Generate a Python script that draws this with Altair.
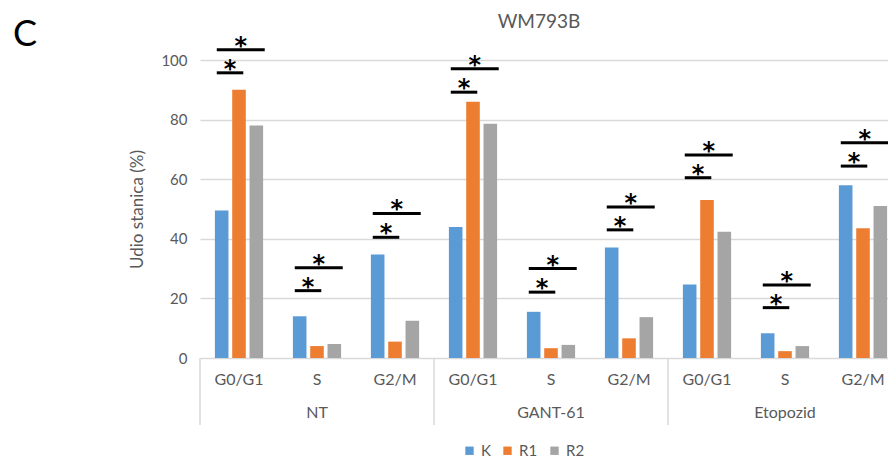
import altair as alt
import pandas as pd

# ---------------- data ----------------
treatments = ["NT", "GANT-61", "Etopozid"]
phases = ["G0/G1", "S", "G2/M"]
series = ["K", "R1", "R2"]
K_vals = [49.5, 14.0, 34.7, 44.0, 15.5, 37.1, 24.7, 8.3, 58.0]
R1_vals = [90.0, 4.0, 5.5, 86.0, 3.3, 6.6, 53.0, 2.3, 43.5]
R2_vals = [78.0, 4.7, 12.5, 78.6, 4.4, 13.7, 42.4, 4.0, 51.0]
sig_short = [95.7, 22.6, 40.5, 89.2, 22.1, 43.0, 60.5, 16.9, 64.4]
sig_long = [103.4, 30.3, 48.5, 97.1, 30.0, 50.7, 68.1, 24.5, 72.2]
colors = ["#5B9BD5", "#ED7D31", "#A5A5A5"]
panel_label = ["C"]
chart_title = ["WM793B"]
y_title = "Udio stanica (%)"

# ---------------- layout ----------------
W, H = 688, 298
UNIT = 78.0
XMAX = W / UNIT
offsets = {"K": -0.222, "R1": 0.0, "R2": 0.222}
HW = 0.087
GREY = "#595959"
FONT = "Lato"

cats = [(t, p) for t in treatments for p in phases]

rows = []
for i in range(len(cats)):
    for s, vals in zip(series, [K_vals, R1_vals, R2_vals]):
        c = i + 0.5 + offsets[s]
        rows.append(dict(series=s, x0=c - HW, x1=c + HW, val=vals[i]))
bars_df = pd.DataFrame(rows)

sig_rows = []
for i in range(len(cats)):
    for end, yv in [(0.555, sig_short[i]), (0.83, sig_long[i])]:
        xs_, xe_ = i + 0.215, i + end
        sig_rows.append(dict(xs=xs_, xe=xe_, xm=(xs_ + xe_) / 2, y=yv, star="*"))
sig_df = pd.DataFrame(sig_rows)

phase_df = pd.DataFrame(dict(pos=[i + 0.5 for i in range(len(cats))],
                             label=[p for _, p in cats]))
treat_df = pd.DataFrame(dict(pos=[3 * k + 1.5 for k in range(len(treatments))],
                             label=treatments))
sep_df = pd.DataFrame(dict(pos=[3 * k for k in range(len(treatments) + 1)]))

xs = alt.Scale(domain=[0, XMAX], nice=False, zero=False)
ys = alt.Scale(domain=[0, 100], nice=False)

bars = alt.Chart(bars_df).mark_rect().encode(
    x=alt.X("x0:Q", scale=xs, axis=None),
    x2="x1:Q",
    y=alt.Y("val:Q", scale=ys,
            axis=alt.Axis(values=[0, 20, 40, 60, 80, 100], domain=False, ticks=False,
                          grid=True, gridColor="#D9D9D9", gridWidth=1.5,
                          labelColor=GREY, labelFontSize=15, labelFont=FONT,
                          labelPadding=13, title=y_title, titleColor=GREY,
                          titleFont=FONT, titleFontSize=17, titleFontWeight="normal",
                          titlePadding=14)),
    y2=alt.datum(0),
    color=alt.Color("series:N",
                    scale=alt.Scale(domain=series, range=colors),
                    legend=alt.Legend(orient="none", legendX=262, legendY=383,
                                      direction="horizontal", title=None,
                                      symbolType="square", symbolSize=70,
                                      symbolStrokeWidth=0, labelFontSize=15,
                                      labelFont=FONT, labelColor=GREY,
                                      columnPadding=9, labelOffset=4)),
)

lines = alt.Chart(sig_df).mark_rule(color="black", strokeWidth=3).encode(
    x=alt.X("xs:Q", scale=xs), x2="xe:Q", y=alt.Y("y:Q", scale=ys))

stars = alt.Chart(sig_df).mark_text(fontSize=24, font="DejaVu Sans", fontWeight="bold",
                                    color="black", baseline="alphabetic", dy=4).encode(
    x=alt.X("xm:Q", scale=xs), y=alt.Y("y:Q", scale=ys), text="star:N")

seps = alt.Chart(sep_df).mark_rule(color="#D9D9D9", strokeWidth=1.5).encode(
    x=alt.X("pos:Q", scale=xs), y=alt.value(H), y2=alt.value(H + 67))

phase_txt = alt.Chart(phase_df).mark_text(fontSize=16, font=FONT, color=GREY,
                                          baseline="middle").encode(
    x=alt.X("pos:Q", scale=xs), y=alt.value(H + 22), text="label:N")

treat_txt = alt.Chart(treat_df).mark_text(fontSize=16, font=FONT, color=GREY,
                                          baseline="middle").encode(
    x=alt.X("pos:Q", scale=xs), y=alt.value(H + 55), text="label:N")

title_txt = alt.Chart(pd.DataFrame(dict(t=chart_title))).mark_text(
    fontSize=19, font=FONT, color=GREY, baseline="middle").encode(
    x=alt.value(339), y=alt.value(-38), text="t:N")

panel_txt = alt.Chart(pd.DataFrame(dict(t=panel_label))).mark_text(
    fontSize=36, font=FONT, color="black", baseline="middle").encode(
    x=alt.value(-175), y=alt.value(-25), text="t:N")

chart = alt.layer(bars, lines, stars, seps, phase_txt, treat_txt, title_txt, panel_txt).properties(
    width=W, height=H,
    autosize=alt.AutoSizeParams(type="none"),
    padding={"left": 192, "top": 52, "right": 0, "bottom": 101},
).configure_view(stroke=None)

chart.save("out.html", embed_options={"renderer": "svg", "actions": False})
